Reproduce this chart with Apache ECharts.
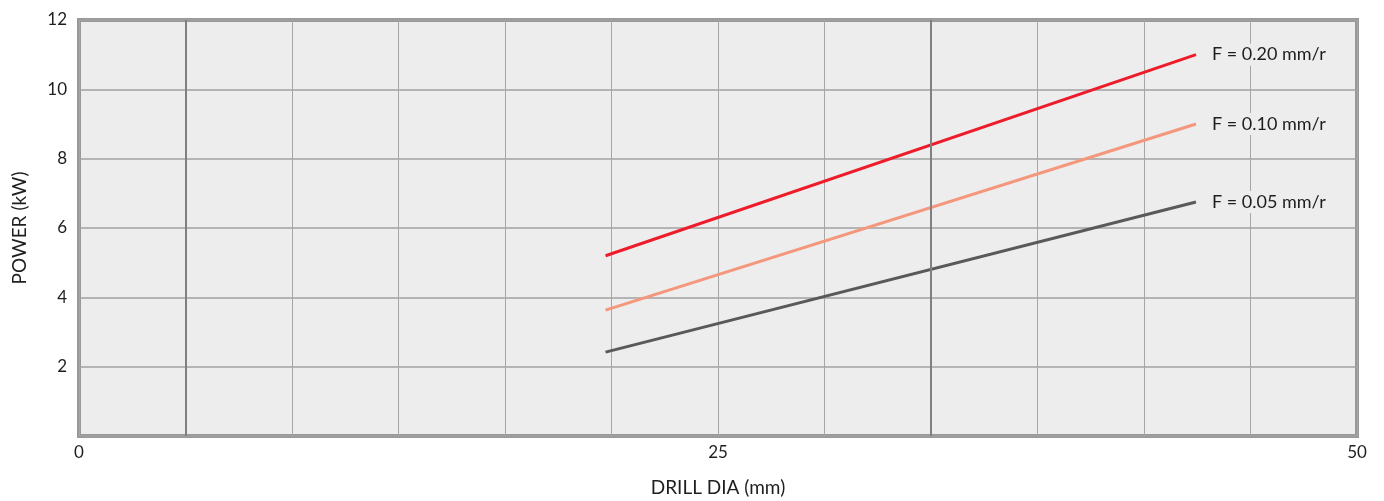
<!DOCTYPE html>
<html>
<head>
<meta charset="utf-8">
<script src="https://cdn.jsdelivr.net/npm/echarts@6/dist/echarts.min.js"></script>
<style>html,body{margin:0;padding:0;background:#fff;}#c{width:1384px;height:501px;}</style>
</head>
<body>
<div id="c"></div>
<script>
// Data
const xLabels = [0, 25, 50];
const yTicks = [2, 4, 6, 8, 10, 12];
const seriesNames = ['F = 0.20 mm/r', 'F = 0.10 mm/r', 'F = 0.05 mm/r'];
const seriesX = [20.6, 43.7];
const f020 = [5.2, 11.0];
const f010 = [3.63, 9.0];
const f005 = [2.42, 6.75];
const darkGridAt = [1, 8]; // in grid units (12 divisions across 0–50)

const colors = ['#ee1c2a', '#f4977c', '#595959'];
const font = 'Lato, "Open Sans", sans-serif';

const allValues = [f020, f010, f005];
const chart = echarts.init(document.getElementById('c'));
chart.setOption({
  animation: false,
  grid: {
    left: 79, right: 27, top: 20, bottom: 65,
    containLabel: false, outerBoundsMode: 'none',
    show: true, backgroundColor: '#ededed', borderColor: '#999999', borderWidth: 4
  },
  xAxis: [{
    type: 'value', min: 0, max: 50, interval: 25,
    name: 'DRILL DIA (mm)', nameLocation: 'middle', nameGap: 42,
    nameTextStyle: { fontFamily: font, fontSize: 19, color: '#1e1e1e' },
    axisLine: { show: false }, axisTick: { show: false }, splitLine: { show: false },
    axisLabel: { fontFamily: font, fontSize: 17, color: '#1e1e1e', margin: 8,
      formatter: v => xLabels.includes(v) ? String(v) : '' }
  }, {
    type: 'value', min: 0, max: 12, interval: 1, show: true,
    axisLine: { show: false }, axisTick: { show: false }, axisLabel: { show: false },
    splitLine: { show: true, lineStyle: { color: '#a6a6a6', width: 1 } }
  }],
  yAxis: {
    type: 'value', min: 0, max: 12, interval: 2,
    name: 'POWER (kW)', nameLocation: 'middle', nameGap: 50, nameRotate: 90,
    nameTextStyle: { fontFamily: font, fontSize: 19, color: '#1e1e1e' },
    axisLine: { show: false }, axisTick: { show: false },
    axisLabel: { fontFamily: font, fontSize: 17, color: '#1e1e1e', margin: 12,
      formatter: v => yTicks.includes(v) ? String(v) : '' },
    splitLine: { show: true, lineStyle: { color: '#a0a0a0', width: 1.5 } }
  },
  series: [
    {
      type: 'line', xAxisIndex: 1, data: [], silent: true,
      markLine: {
        symbol: 'none', silent: true, label: { show: false },
        lineStyle: { color: '#808080', width: 2, type: 'solid' },
        data: darkGridAt.map(v => ({ xAxis: v }))
      }
    }
  ].concat(seriesNames.map((name, i) => ({
    name: name, type: 'line', xAxisIndex: 0, symbol: 'none',
    data: seriesX.map((x, j) => [x, allValues[i][j]]),
    lineStyle: { color: colors[i], width: 3 },
    itemStyle: { color: colors[i] },
    endLabel: {
      show: true, formatter: name, distance: 13,
      fontFamily: font, fontSize: 18, color: '#1e1e1e',
      backgroundColor: '#ededed', padding: [2, 3]
    }
  })))
});
</script>
</body>
</html>
